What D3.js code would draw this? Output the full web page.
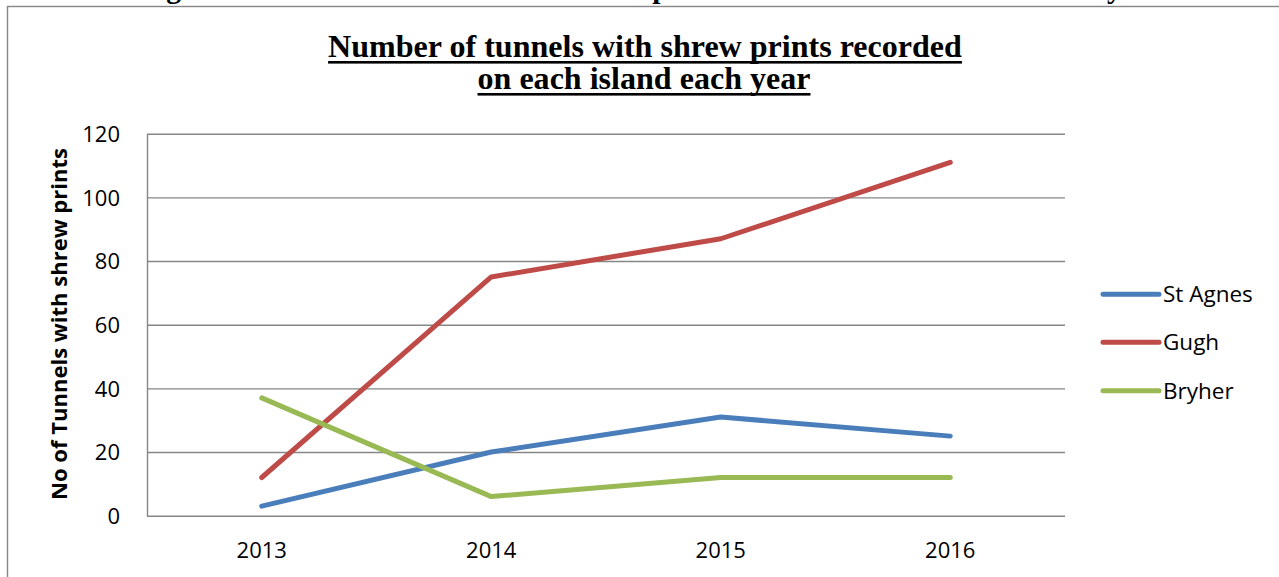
<!DOCTYPE html>
<html>
<head>
<meta charset="utf-8">
<script src="https://cdn.jsdelivr.net/npm/d3@7"></script>
<style>
  html, body { margin: 0; padding: 0; background: #fff; }
  svg { display: block; }
</style>
</head>
<body>
<svg id="chart" width="1279" height="577"></svg>
<script>
// Islands surveyed and tunnel counts per year
const years = ["2013", "2014", "2015", "2016"];
const stAgnes = [3, 20, 31, 25];
const gugh = [12, 75, 87, 111];
const bryher = [37, 6, 12, 12];
const seriesNames = ["St Agnes", "Gugh", "Bryher"];
const seriesColors = ["#4A7EBB", "#BE4B48", "#98B954"];
const yTicks = [0, 20, 40, 60, 80, 100, 120];

const titleLines = ["Number of tunnels with shrew prints recorded", "on each island each year"];
const captionText = "Figure 3: Number of tunnels with shrew prints recorded on each island each year";
const yTitle = "No of Tunnels with shrew prints";

const series = seriesNames.map((name, i) => ({
  name,
  color: seriesColors[i],
  values: [stAgnes, gugh, bryher][i]
}));

const svg = d3.select("#chart");
const sans = "'Open Sans', 'Liberation Sans', sans-serif";
const serif = "'Liberation Serif', 'Times New Roman', serif";
const gridColor = "#868686";

// Document caption sitting above the chart frame (only descenders show)
svg.append("text")
  .attr("x", 140).attr("y", -2)
  .attr("font-family", serif).attr("font-weight", "bold").attr("font-size", 29.6)
  .attr("fill", "#000")
  .text(captionText);

// Chart frame
svg.append("rect")
  .attr("x", 7.5).attr("y", 6.5)
  .attr("width", 1400).attr("height", 700)
  .attr("fill", "#fff")
  .attr("stroke", gridColor).attr("stroke-width", 1.4);

// Plot area
const plot = { left: 147, right: 1065, top: 133.7, bottom: 515.7 };

const x = d3.scaleBand().domain(years).range([plot.left, plot.right]);
const y = d3.scaleLinear().domain([0, 120]).range([plot.bottom, plot.top]);
const cx = d => x(d) + x.bandwidth() / 2;

// Y axis with gridlines
const yAxis = svg.append("g")
  .attr("transform", `translate(${plot.left},0)`)
  .call(d3.axisLeft(y).tickValues(yTicks).tickSizeInner(-(plot.right - plot.left)).tickSizeOuter(0).tickPadding(27));
yAxis.select(".domain").attr("stroke", gridColor).attr("stroke-width", 1.4);
yAxis.selectAll(".tick line").attr("stroke", gridColor).attr("stroke-width", 1.4);
yAxis.selectAll(".tick text")
  .attr("font-family", sans).attr("font-size", 22).attr("fill", "#000")
  .attr("dy", "0.35em");

// X axis labels
const xAxis = svg.append("g")
  .attr("transform", `translate(0,${plot.bottom})`)
  .call(d3.axisBottom(x).tickSize(0));
xAxis.select(".domain").remove();
xAxis.selectAll(".tick text")
  .attr("font-family", sans).attr("font-size", 22).attr("fill", "#000")
  .attr("y", 42).attr("dy", 0);

// Series lines
const line = d3.line()
  .x((d, i) => cx(years[i]))
  .y(d => y(d));

svg.append("g").selectAll("path")
  .data(series)
  .join("path")
  .attr("d", d => line(d.values))
  .attr("fill", "none")
  .attr("stroke", d => d.color)
  .attr("stroke-width", 5)
  .attr("stroke-linecap", "round")
  .attr("stroke-linejoin", "round");

// Legend
const legendY = [294.3, 342.3, 390.7];
const legend = svg.append("g").selectAll("g")
  .data(series)
  .join("g")
  .attr("transform", (d, i) => `translate(1103,${legendY[i]})`);
legend.append("line")
  .attr("x1", 0).attr("x2", 56)
  .attr("stroke", d => d.color)
  .attr("stroke-width", 5)
  .attr("stroke-linecap", "round");
legend.append("text")
  .attr("x", 60).attr("dy", "0.35em")
  .attr("font-family", sans).attr("font-size", 22.5).attr("fill", "#000")
  .text(d => d.name);

// Y axis title, fitted to its span
const yt = svg.append("text")
  .attr("transform", "translate(67,324) rotate(-90)")
  .attr("text-anchor", "middle")
  .attr("font-family", sans).attr("font-weight", "bold").attr("font-size", 20)
  .attr("fill", "#000")
  .text(yTitle);
const ytLen = yt.node().getComputedTextLength();
yt.attr("font-size", 20 * 352 / ytLen);

// Chart title, two underlined lines
const titleBase = [57, 89];
const titleCenter = [645, 644];
const probe = svg.append("text")
  .attr("font-family", serif).attr("font-weight", "bold").attr("font-size", 32)
  .text(titleLines[0]);
const titleSize = 32 * 634 / probe.node().getComputedTextLength();
probe.remove();

titleLines.forEach((t, i) => {
  const tx = svg.append("text")
    .attr("x", titleCenter[i]).attr("y", titleBase[i])
    .attr("text-anchor", "middle")
    .attr("font-family", serif).attr("font-weight", "bold").attr("font-size", titleSize)
    .attr("fill", "#000")
    .text(t);
  const w = tx.node().getComputedTextLength();
  svg.append("rect")
    .attr("x", titleCenter[i] - w / 2).attr("y", titleBase[i] + 4)
    .attr("width", w).attr("height", 2.6)
    .attr("fill", "#000");
});
</script>
</body>
</html>
